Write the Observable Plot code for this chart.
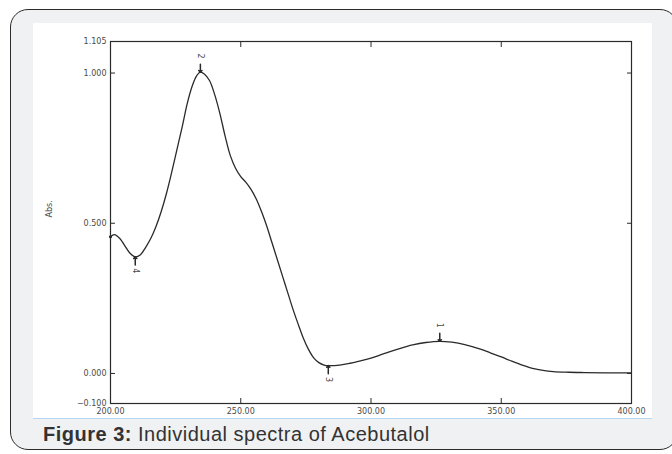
<!DOCTYPE html>
<html>
<head>
<meta charset="utf-8">
<script src="https://cdn.jsdelivr.net/npm/d3@7"></script>
<script src="https://cdn.jsdelivr.net/npm/@observablehq/plot@0.6"></script>
<style>
  html, body { margin: 0; padding: 0; background: #fff; width: 672px; height: 454px; overflow: hidden; }
  #box { position: absolute; left: 10px; top: 9px; width: 668px; height: 441px; border: 1.5px solid #2b2b2b; border-radius: 18px; background: #f0f1f3; box-sizing: border-box; }
  #panel { position: absolute; left: 33px; top: 23px; width: 619px; height: 395px; background: #fff; border-bottom: 1px solid #b5d5f2; box-sizing: content-box; }
  #caption { position: absolute; left: 43px; top: 423px; font-family: "Liberation Sans", Arial, sans-serif; font-size: 20px; letter-spacing: 0.5px; color: #333; white-space: nowrap; }
  #caption b { font-weight: bold; }
</style>
</head>
<body>
<div id="box"></div>
<div id="panel"></div>
<div id="caption"><b>Figure 3:</b> Individual spectra of Acebutalol</div>
<script>
// Wavelength (nm) and absorbance
const wavelength = [200, 201.5, 203.5, 205.5, 207.5, 209.5, 211.5, 213.5, 215.5, 217.5, 219.5, 221.5, 223.5, 225.5, 227.5, 229.5, 231.5, 233, 234.5, 236, 238, 240, 242, 244, 246, 248, 250, 252, 254, 256, 258, 260, 262, 264, 266, 268, 270, 272, 274, 276, 278, 280, 282, 283.6, 288, 292, 296, 300, 305, 311, 316, 321, 326.4, 331, 336, 342, 346, 350, 354, 358, 362, 366, 370, 376, 382, 390, 400];
const absorbance = [0.455, 0.462, 0.45, 0.425, 0.4, 0.388, 0.395, 0.42, 0.45, 0.49, 0.54, 0.6, 0.67, 0.745, 0.82, 0.9, 0.96, 0.99, 1.003, 0.997, 0.975, 0.928, 0.865, 0.79, 0.725, 0.683, 0.655, 0.636, 0.612, 0.58, 0.538, 0.49, 0.435, 0.38, 0.325, 0.27, 0.215, 0.165, 0.118, 0.08, 0.052, 0.036, 0.028, 0.026, 0.028, 0.034, 0.042, 0.051, 0.066, 0.083, 0.095, 0.103, 0.107, 0.104, 0.096, 0.081, 0.068, 0.055, 0.041, 0.028, 0.017, 0.01, 0.006, 0.004, 0.003, 0.002, 0.002];

// Peak picks
const peakLabels = ["1", "2", "3", "4"];
const peakX = [326.4, 234.5, 283.6, 209.5];
const peakY = [0.107, 1.003, 0.026, 0.388];
const peakType = ["max", "max", "min", "min"];

// Axis ticks
const xTickMarks = [250, 300, 350];
const xTickLabels = [200, 250, 300, 350, 400];
const yTickMarks = [0, 0.5, 1.0];
const yTickLabels = [-0.1, 0, 0.5, 1.0, 1.105];

const spectrum = wavelength.map((w, i) => ({w, a: absorbance[i]}));
const peaks = peakLabels.map((n, i) => ({n, w: peakX[i], a: peakY[i], type: peakType[i]}));
const maxima = peaks.filter(d => d.type === "max");
const minima = peaks.filter(d => d.type === "min");

const ink = "#2a2a2a";
const labelInk = "#4a4a4a";

const chart = Plot.plot({
  width: 619,
  height: 395,
  marginLeft: 77,
  marginRight: 21,
  marginTop: 18,
  marginBottom: 15,
  style: {background: "transparent", fontFamily: "DejaVu Sans, sans-serif", fontSize: "8px", overflow: "visible"},
  x: {domain: [200, 400]},
  y: {domain: [-0.1, 1.105]},
  marks: [
    Plot.frame({stroke: ink, strokeWidth: 1.2}),
    // inward tick marks
    Plot.axisX({anchor: "bottom", ticks: xTickMarks, tickSize: -5, text: null, stroke: ink, label: null}),
    Plot.axisX({anchor: "top", ticks: xTickMarks, tickSize: -5, text: null, stroke: ink, label: null}),
    Plot.axisY({anchor: "left", ticks: yTickMarks, tickSize: -5, text: null, stroke: ink, label: null}),
    Plot.axisY({anchor: "right", ticks: yTickMarks, tickSize: -5, text: null, stroke: ink, label: null}),
    // tick labels
    Plot.axisX({anchor: "bottom", ticks: xTickLabels, tickSize: 0, tickPadding: 5, tickFormat: d3.format(".2f"), fill: labelInk, label: null}),
    Plot.axisY({anchor: "left", ticks: yTickLabels, tickSize: 0, tickPadding: 4, tickFormat: d3.format(".3f"), fill: labelInk, label: null}),
    Plot.text(["Abs."], {frameAnchor: "left", dx: -61, dy: -5, rotate: -90, fill: labelInk, fontSize: 8}),
    // spectrum
    Plot.line(spectrum, {x: "w", y: "a", stroke: ink, strokeWidth: 1.3, curve: "catmull-rom"}),
    Plot.dot(spectrum.slice(0, 1), {x: "w", y: "a", r: 1.6, fill: ink}),
    // peak markers
    Plot.vector(maxima, {x: "w", y: "a", length: 8, rotate: 180, anchor: "end", shape: "arrow", stroke: ink, strokeWidth: 1.5}),
    Plot.vector(minima, {x: "w", y: "a", length: 8, rotate: 0, anchor: "end", shape: "arrow", stroke: ink, strokeWidth: 1.5}),
    Plot.text(maxima, {x: "w", y: "a", text: "n", dy: -16, rotate: 90, fill: labelInk, fontSize: 8}),
    Plot.text(minima, {x: "w", y: "a", text: "n", dy: 14, rotate: 90, fill: labelInk, fontSize: 8})
  ]
});
chart.style.position = "absolute";
chart.style.left = "33px";
chart.style.top = "23px";
document.body.appendChild(chart);
</script>
</body>
</html>
